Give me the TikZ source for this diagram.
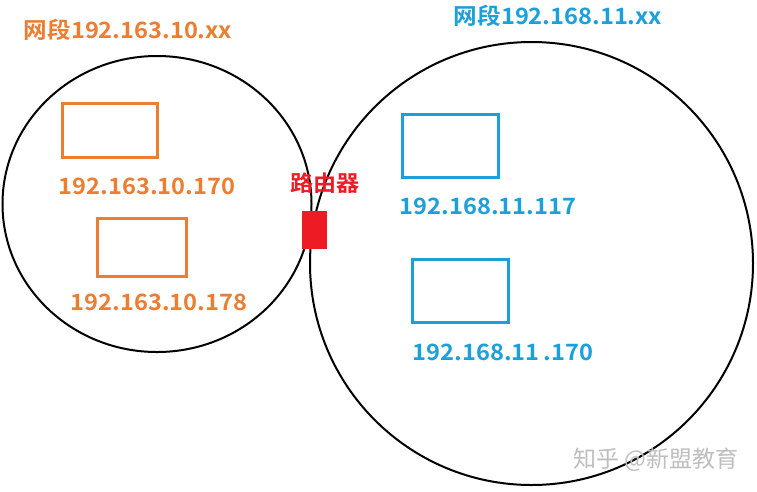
\documentclass[tikz,border=0pt]{standalone}
\usepackage{fontspec}
\setmainfont{Noto Sans CJK SC}[BoldFont={Noto Sans CJK SC Bold}]
\newfontfamily\widefont{Noto Sans CJK SC Bold}[FakeStretch=1.05]
\usetikzlibrary{shapes.geometric}
\definecolor{orangeC}{RGB}{237,125,49}
\definecolor{blueC}{RGB}{27,160,220}
\definecolor{redC}{RGB}{237,28,36}
\definecolor{markC}{RGB}{190,190,190}
\begin{document}
\begin{tikzpicture}[x=1pt,y=-1pt,
  net/.style={draw=black,line width=2pt,ellipse,inner sep=0pt},
  hostL/.style={draw=orangeC,line width=3pt,rectangle,inner sep=0pt},
  hostR/.style={draw=blueC,line width=3pt,rectangle,inner sep=0pt},
  lblL/.style={text=orangeC,font=\widefont\fontsize{22.5}{26}\selectfont,inner sep=0pt},
  lblR/.style={text=blueC,font=\widefont\fontsize{22.5}{26}\selectfont,inner sep=0pt},
  rlbl/.style={text=redC,font=\widefont\fontsize{22}{26}\selectfont,inner sep=0pt},
  wm/.style={text=markC,font=\fontsize{23}{26}\selectfont,inner sep=0pt}]
\useasboundingbox (0,0) rectangle (757,491);
\fill[white] (0,0) rectangle (757,491);
% networks
\node[net,minimum width=309pt,minimum height=296pt] (netL) at (157,204) {};
\node[net,minimum width=443pt,minimum height=443pt] (netR) at (531.5,263.5) {};
% titles
\node[lblL] (titleL) at (128,30) {网段192.163.10.xx};
\node[lblR] (titleR) at (558,16) {网段192.168.11.xx};
% left hosts
\node[hostL,minimum width=95pt,minimum height=54pt] (h1) at (109.5,130) {};
\node[lblL] (t1) at (147,186) {192.163.10.170};
\node[hostL,minimum width=89pt,minimum height=58pt] (h2) at (141.5,247) {};
\node[lblL] (t2) at (159,302) {192.163.10.178};
% right hosts
\node[hostR,minimum width=96pt,minimum height=63pt] (h3) at (450,145.5) {};
\node[lblR] (t3) at (488,206) {192.168.11.117};
\node[hostR,minimum width=96pt,minimum height=63pt] (h4) at (460,290.5) {};
\node[lblR] (t4) at (503,352) {192.168.11\,.170};
% router
\node[fill=redC,minimum width=25pt,minimum height=38pt,inner sep=0pt] (router) at (314.5,230) {};
\node[rlbl] (rt) at (325,183) {路由器};
% watermark
\node[wm] (mark) at (656,460) {知乎 @新盟教育};
\end{tikzpicture}
\end{document}
